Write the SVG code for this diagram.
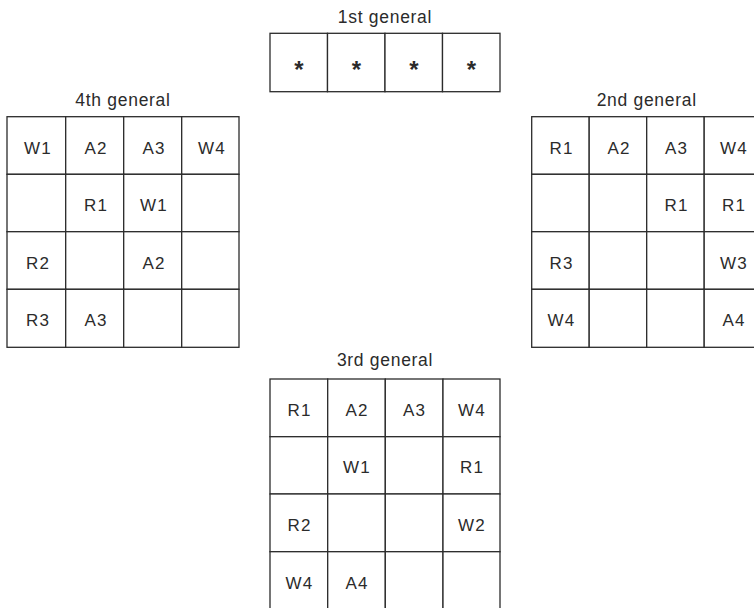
<svg xmlns="http://www.w3.org/2000/svg" width="754" height="608" viewBox="0 0 754 608">
<style>
.c{fill:#fff;stroke:#2b2b2b;stroke-width:1.3}
.t{font-family:"Liberation Sans",Arial,sans-serif;font-size:17px;fill:#2b2b2b;text-anchor:middle;letter-spacing:1.2px}
.h{font-family:"Liberation Sans",Arial,sans-serif;font-size:17.5px;fill:#2b2b2b;text-anchor:middle;letter-spacing:0.7px}
.s{font-family:"Liberation Sans",Arial,sans-serif;font-size:24px;font-weight:bold;fill:#2b2b2b;text-anchor:middle}
</style>
<rect width="754" height="608" fill="#fff"/>
<g id="general1">
<text class="h" x="385" y="22.5">1st general</text>
<rect class="c" x="270" y="33.3" width="57.5" height="58.4"/>
<rect class="c" x="327.5" y="33.3" width="57.5" height="58.4"/>
<rect class="c" x="385" y="33.3" width="57.5" height="58.4"/>
<rect class="c" x="442.5" y="33.3" width="57.5" height="58.4"/>
<text class="s" x="298.8" y="78">*</text>
<text class="s" x="356.3" y="78">*</text>
<text class="s" x="413.8" y="78">*</text>
<text class="s" x="471.3" y="78">*</text>
</g>
<g id="general4">
<text class="h" x="123" y="106">4th general</text>
<g>
<rect class="c" x="7" y="116.7" width="58.7" height="57.6"/>
<rect class="c" x="65.7" y="116.7" width="58" height="57.6"/>
<rect class="c" x="123.7" y="116.7" width="58" height="57.6"/>
<rect class="c" x="181.7" y="116.7" width="57.3" height="57.6"/>
<rect class="c" x="7" y="174.3" width="58.7" height="57.4"/>
<rect class="c" x="65.7" y="174.3" width="58" height="57.4"/>
<rect class="c" x="123.7" y="174.3" width="58" height="57.4"/>
<rect class="c" x="181.7" y="174.3" width="57.3" height="57.4"/>
<rect class="c" x="7" y="231.7" width="58.7" height="57.6"/>
<rect class="c" x="65.7" y="231.7" width="58" height="57.6"/>
<rect class="c" x="123.7" y="231.7" width="58" height="57.6"/>
<rect class="c" x="181.7" y="231.7" width="57.3" height="57.6"/>
<rect class="c" x="7" y="289.3" width="58.7" height="58"/>
<rect class="c" x="65.7" y="289.3" width="58" height="58"/>
<rect class="c" x="123.7" y="289.3" width="58" height="58"/>
<rect class="c" x="181.7" y="289.3" width="57.3" height="58"/>
</g>
<text class="t" x="38" y="153.5">W1</text>
<text class="t" x="96" y="153.5">A2</text>
<text class="t" x="154" y="153.5">A3</text>
<text class="t" x="212" y="153.5">W4</text>
<text class="t" x="96" y="211">R1</text>
<text class="t" x="154" y="211">W1</text>
<text class="t" x="38" y="268.5">R2</text>
<text class="t" x="154" y="268.5">A2</text>
<text class="t" x="38" y="326.3">R3</text>
<text class="t" x="96" y="326.3">A3</text>
</g>
<g id="general2">
<text class="h" x="646.7" y="106">2nd general</text>
<g>
<rect class="c" x="531.7" y="116.7" width="57.5" height="57.6"/>
<rect class="c" x="589.2" y="116.7" width="57.5" height="57.6"/>
<rect class="c" x="646.7" y="116.7" width="57.5" height="57.6"/>
<rect class="c" x="704.2" y="116.7" width="57.5" height="57.6"/>
<rect class="c" x="531.7" y="174.3" width="57.5" height="57.4"/>
<rect class="c" x="589.2" y="174.3" width="57.5" height="57.4"/>
<rect class="c" x="646.7" y="174.3" width="57.5" height="57.4"/>
<rect class="c" x="704.2" y="174.3" width="57.5" height="57.4"/>
<rect class="c" x="531.7" y="231.7" width="57.5" height="57.6"/>
<rect class="c" x="589.2" y="231.7" width="57.5" height="57.6"/>
<rect class="c" x="646.7" y="231.7" width="57.5" height="57.6"/>
<rect class="c" x="704.2" y="231.7" width="57.5" height="57.6"/>
<rect class="c" x="531.7" y="289.3" width="57.5" height="58"/>
<rect class="c" x="589.2" y="289.3" width="57.5" height="58"/>
<rect class="c" x="646.7" y="289.3" width="57.5" height="58"/>
<rect class="c" x="704.2" y="289.3" width="57.5" height="58"/>
</g>
<text class="t" x="561.5" y="153.5">R1</text>
<text class="t" x="619" y="153.5">A2</text>
<text class="t" x="676.5" y="153.5">A3</text>
<text class="t" x="734" y="153.5">W4</text>
<text class="t" x="676.5" y="211">R1</text>
<text class="t" x="734" y="211">R1</text>
<text class="t" x="561.5" y="268.5">R3</text>
<text class="t" x="734" y="268.5">W3</text>
<text class="t" x="561.5" y="326.3">W4</text>
<text class="t" x="734" y="326.3">A4</text>
</g>
<g id="general3">
<text class="h" x="385" y="366">3rd general</text>
<g>
<rect class="c" x="270" y="379" width="57.7" height="57.7"/>
<rect class="c" x="327.7" y="379" width="57.6" height="57.7"/>
<rect class="c" x="385.3" y="379" width="57.7" height="57.7"/>
<rect class="c" x="443" y="379" width="57" height="57.7"/>
<rect class="c" x="270" y="436.7" width="57.7" height="57.3"/>
<rect class="c" x="327.7" y="436.7" width="57.6" height="57.3"/>
<rect class="c" x="385.3" y="436.7" width="57.7" height="57.3"/>
<rect class="c" x="443" y="436.7" width="57" height="57.3"/>
<rect class="c" x="270" y="494" width="57.7" height="57.7"/>
<rect class="c" x="327.7" y="494" width="57.6" height="57.7"/>
<rect class="c" x="385.3" y="494" width="57.7" height="57.7"/>
<rect class="c" x="443" y="494" width="57" height="57.7"/>
<rect class="c" x="270" y="551.7" width="57.7" height="58"/>
<rect class="c" x="327.7" y="551.7" width="57.6" height="58"/>
<rect class="c" x="385.3" y="551.7" width="57.7" height="58"/>
<rect class="c" x="443" y="551.7" width="57" height="58"/>
</g>
<text class="t" x="299.5" y="415.8">R1</text>
<text class="t" x="357" y="415.8">A2</text>
<text class="t" x="414.5" y="415.8">A3</text>
<text class="t" x="472" y="415.8">W4</text>
<text class="t" x="357" y="473.3">W1</text>
<text class="t" x="472" y="473.3">R1</text>
<text class="t" x="299.5" y="530.8">R2</text>
<text class="t" x="472" y="530.8">W2</text>
<text class="t" x="299.5" y="588.5">W4</text>
<text class="t" x="357" y="588.5">A4</text>
</g>
</svg>
